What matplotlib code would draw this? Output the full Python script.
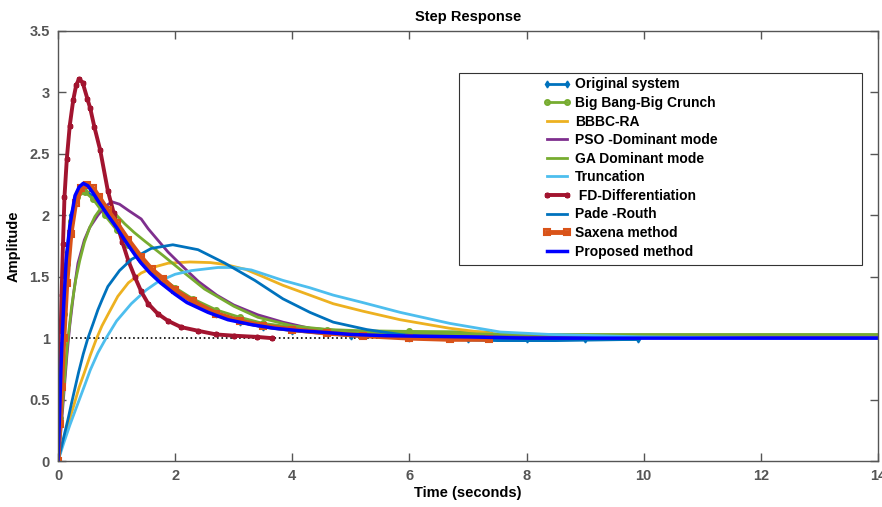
import numpy as np
import matplotlib.pyplot as plt
from matplotlib.patches import Rectangle

# step response data (time in s, amplitude)
t_orig = [0, 0.02, 0.04, 0.07, 0.1, 0.15, 0.22, 0.32, 0.45, 0.6, 0.8, 1.0, 1.2, 1.42, 1.6, 1.8, 2.0, 2.3, 2.7, 3.1, 3.5, 4.0, 5.0, 6.0, 7.0, 8.0, 9.0, 9.9]
y_orig = [0, 0.35, 0.7, 1.05, 1.35, 1.7, 2.0, 2.17, 2.21, 2.15, 2.02, 1.9, 1.77, 1.64, 1.55, 1.46, 1.38, 1.3, 1.2, 1.13, 1.09, 1.06, 1.02, 1.0, 0.99, 0.99, 0.99, 0.99]

t_bbbc = [0, 0.03, 0.06, 0.1, 0.15, 0.22, 0.32, 0.46, 0.6, 0.8, 1.0, 1.2, 1.42, 1.6, 1.8, 2.0, 2.3, 2.7, 3.1, 3.5, 4.0, 4.6, 5.2, 6.0, 7.35]
y_bbbc = [0, 0.35, 0.75, 1.2, 1.6, 1.95, 2.15, 2.19, 2.13, 2.0, 1.88, 1.76, 1.64, 1.56, 1.48, 1.41, 1.32, 1.23, 1.17, 1.12, 1.09, 1.07, 1.06, 1.055, 1.05]

t_ra = [0, 0.1, 0.18, 0.28, 0.36, 0.45, 0.55, 0.66, 0.75, 0.85, 1.02, 1.2, 1.42, 1.65, 1.88, 2.25, 2.6, 2.85, 3.2, 3.5, 3.84, 4.3, 4.7, 5.2, 5.84, 6.69, 7.55, 8.4, 10, 12, 14]
y_ra = [0, 0.18, 0.31, 0.47, 0.6, 0.72, 0.86, 1.0, 1.1, 1.19, 1.34, 1.45, 1.53, 1.58, 1.61, 1.62, 1.615, 1.6, 1.56, 1.5, 1.43, 1.35, 1.28, 1.22, 1.15, 1.08, 1.03, 1.02, 1.01, 1.01, 1.01]

t_pso = [0, 0.05, 0.1, 0.15, 0.2, 0.27, 0.34, 0.45, 0.54, 0.68, 0.8, 0.92, 1.05, 1.2, 1.42, 1.54, 1.7, 1.88, 2.05, 2.2, 2.4, 2.71, 3.0, 3.41, 3.84, 4.3, 5.0, 6.0, 6.7, 8.0, 10, 14]
y_pso = [0, 0.25, 0.55, 0.85, 1.1, 1.38, 1.61, 1.8, 1.9, 2.0, 2.07, 2.11, 2.09, 2.04, 1.97, 1.89, 1.8, 1.7, 1.62, 1.55, 1.46, 1.35, 1.27, 1.19, 1.13, 1.08, 1.05, 1.035, 1.03, 1.02, 1.01, 1.01]

t_ga = [0, 0.05, 0.1, 0.16, 0.23, 0.3, 0.37, 0.45, 0.54, 0.63, 0.72, 0.8, 0.9, 1.0, 1.14, 1.3, 1.48, 1.8, 2.16, 2.5, 3.0, 3.41, 4.0, 5.0, 6.0, 8.0, 14]
y_ga = [0, 0.3, 0.6, 0.95, 1.25, 1.47, 1.63, 1.78, 1.9, 1.99, 2.05, 2.06, 2.04, 2.0, 1.93, 1.86, 1.79, 1.67, 1.53, 1.4, 1.26, 1.17, 1.1, 1.05, 1.04, 1.03, 1.03]

t_trunc = [0, 0.1, 0.2, 0.34, 0.45, 0.55, 0.68, 0.82, 1.0, 1.25, 1.5, 1.71, 2.0, 2.28, 2.73, 3.0, 3.3, 3.84, 4.3, 4.7, 5.2, 5.84, 6.69, 7.55, 8.4, 9.2, 10, 12, 14]
y_trunc = [0, 0.15, 0.29, 0.47, 0.61, 0.74, 0.88, 1.0, 1.14, 1.28, 1.39, 1.46, 1.52, 1.55, 1.575, 1.575, 1.555, 1.47, 1.41, 1.35, 1.29, 1.21, 1.12, 1.05, 1.03, 1.02, 1.01, 1.0, 1.0]

t_fd = [0, 0.02, 0.04, 0.06, 0.085, 0.11, 0.15, 0.2, 0.26, 0.31, 0.36, 0.42, 0.5, 0.55, 0.62, 0.72, 0.85, 0.95, 1.02, 1.1, 1.2, 1.31, 1.42, 1.54, 1.7, 1.88, 2.1, 2.39, 2.7, 3.0, 3.4, 3.65]
y_fd = [0, 0.5, 0.95, 1.35, 1.77, 2.15, 2.46, 2.73, 2.94, 3.06, 3.11, 3.08, 2.95, 2.87, 2.72, 2.53, 2.2, 2.02, 1.91, 1.78, 1.63, 1.5, 1.38, 1.28, 1.2, 1.14, 1.09, 1.06, 1.03, 1.02, 1.01, 1.0]

t_pade = [0, 0.1, 0.17, 0.23, 0.35, 0.43, 0.51, 0.6, 0.68, 0.75, 0.85, 1.05, 1.25, 1.59, 1.96, 2.39, 2.85, 3.36, 3.84, 4.3, 4.7, 5.27, 5.84, 6.69, 7.5, 8.5, 9.9]
y_pade = [0, 0.2, 0.34, 0.47, 0.72, 0.87, 1.0, 1.12, 1.23, 1.31, 1.42, 1.55, 1.64, 1.73, 1.76, 1.72, 1.61, 1.47, 1.32, 1.21, 1.13, 1.07, 1.03, 0.99, 0.98, 0.98, 0.99]

t_sax = [0, 0.03, 0.06, 0.1, 0.15, 0.22, 0.3, 0.4, 0.5, 0.6, 0.7, 0.85, 1.0, 1.2, 1.42, 1.6, 1.8, 2.0, 2.3, 2.7, 3.1, 3.5, 4.0, 4.6, 5.2, 6.0, 6.7, 7.35]
y_sax = [0, 0.3, 0.6, 1.0, 1.45, 1.85, 2.1, 2.22, 2.25, 2.22, 2.15, 2.04, 1.94, 1.8, 1.66, 1.56, 1.48, 1.39, 1.3, 1.2, 1.14, 1.1, 1.07, 1.04, 1.02, 1.0, 0.99, 0.99]

t_prop = [0, 0.02, 0.035, 0.05, 0.07, 0.1, 0.14, 0.2, 0.29, 0.36, 0.43, 0.51, 0.6, 0.68, 0.85, 1.0, 1.15, 1.31, 1.42, 1.57, 1.75, 1.99, 2.2, 2.56, 2.9, 3.3, 3.7, 4.13, 4.6, 5.0, 5.6, 6.27, 7.0, 8.0, 9.0, 10.0, 12.0, 14.0]
y_prop = [0, 0.3, 0.52, 0.75, 1.0, 1.3, 1.64, 1.91, 2.16, 2.23, 2.26, 2.24, 2.18, 2.12, 2.0, 1.9, 1.79, 1.68, 1.61, 1.53, 1.45, 1.36, 1.29, 1.21, 1.15, 1.11, 1.08, 1.06, 1.045, 1.03, 1.02, 1.015, 1.01, 1.0, 1.0, 1.0, 1.0, 1.0]

plt.rcParams["font.family"] = ["Liberation Sans", "DejaVu Sans"]
plt.rcParams["font.weight"] = "bold"

fig = plt.figure(figsize=(8.82, 5.07), dpi=100)
ax = fig.add_axes([0.0658, 0.0907, 0.9297, 0.8482])

ax.axhline(1, color="black", linestyle=":", linewidth=1.2, zorder=1)

ax.plot(t_orig, y_orig, "-d", color="#0072BD", lw=2, ms=3.5, label="Original system")
ax.plot(t_bbbc, y_bbbc, "-o", color="#77AC30", lw=2, ms=3.5, mfc="none", mew=1.5, label="Big Bang-Big Crunch")
ax.plot(t_ra, y_ra, color="#EDB120", lw=2, label="BBBC-RA")
ax.plot(t_pso, y_pso, color="#7E2F8E", lw=2, label="PSO -Dominant mode")
ax.plot(t_ga, y_ga, color="#77AC30", lw=2, label="GA Dominant mode")
ax.plot(t_trunc, y_trunc, color="#4DBEEE", lw=2, label="Truncation")
ax.plot(t_fd, y_fd, color="#A2142F", lw=2.8, marker=(6, 2, 0), ms=4, mew=1.6, label=" FD-Differentiation")
ax.plot(t_pade, y_pade, color="#0072BD", lw=2, label="Pade -Routh")
ax.plot(t_sax, y_sax, "-s", color="#D95319", lw=3.5, ms=5, mfc="none", mew=1.5, label="Saxena method")
ax.plot(t_prop, y_prop, color="#0000FF", lw=2.5, label="Proposed method")

ax.set_xlim(0, 14)
ax.set_ylim(0, 3.5)
ax.set_xticks(np.arange(0, 15, 2))
ax.set_yticks(np.arange(0, 3.6, 0.5))
ax.set_yticklabels(["0", "0.5", "1", "1.5", "2", "2.5", "3", "3.5"])
ax.tick_params(direction="in", top=True, right=True, length=6, width=1,
               colors="#555555", labelcolor="#555555", labelsize=10.5, pad=6)
for s in ax.spines.values():
    s.set_color("#555555")
    s.set_linewidth(1)

ax.set_title("Step Response", fontsize=10.5, fontweight="bold", pad=7)
ax.set_xlabel("Time (seconds)", fontsize=10.5, fontweight="bold", labelpad=2)
ax.set_ylabel("Amplitude", fontsize=10.5, fontweight="bold", labelpad=6)

# legend box drawn separately, MATLAB style
ax.add_patch(Rectangle((0.489, 0.456), 0.491, 0.446, transform=ax.transAxes,
                       facecolor="white", edgecolor="#333333", lw=0.8, zorder=4))
leg = ax.legend(loc="upper left", bbox_to_anchor=(0.585, 0.905), frameon=False,
                fontsize=10, handlelength=2.0, handletextpad=0.3, labelspacing=0.33,
                borderaxespad=0, numpoints=2)
leg.set_zorder(5)

fig.savefig("out.png", dpi=100)
